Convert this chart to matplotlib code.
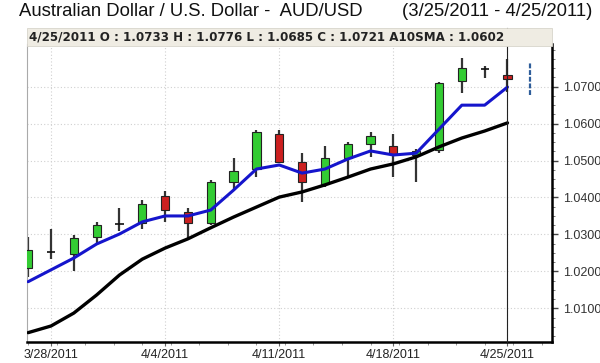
import matplotlib
matplotlib.use('Agg')

import matplotlib.pyplot as plt
from matplotlib.ticker import FixedLocator, MultipleLocator, FormatStrFormatter
import numpy as np

plt.rcParams['font.family'] = ['Liberation Sans', 'DejaVu Sans']

# daily AUD/USD candles, 3/25/2011 - 4/25/2011
dates = ['3/25', '3/28', '3/29', '3/30', '3/31', '4/1', '4/4', '4/5', '4/6', '4/7', '4/8',
         '4/11', '4/12', '4/13', '4/14', '4/15', '4/18', '4/19', '4/20', '4/21', '4/22', '4/25']
opens = [1.0209, 1.0253, 1.0247, 1.0293, 1.0329, 1.0331, 1.0404, 1.0360, 1.0331, 1.0442, 1.0477,
         1.0572, 1.0496, 1.0437, 1.0507, 1.0545, 1.0539, 1.0515, 1.0528, 1.0715, 1.0749, 1.0733]
highs = [1.0293, 1.0315, 1.0298, 1.0334, 1.0372, 1.0393, 1.0418, 1.0372, 1.0447, 1.0507, 1.0583,
         1.0583, 1.0520, 1.0539, 1.0550, 1.0577, 1.0572, 1.0530, 1.0713, 1.0778, 1.0756, 1.0776]
lows = [1.0185, 1.0233, 1.0201, 1.0274, 1.0309, 1.0315, 1.0334, 1.0290, 1.0325, 1.0423, 1.0455,
        1.0493, 1.0388, 1.0428, 1.0455, 1.0510, 1.0455, 1.0442, 1.0520, 1.0683, 1.0724, 1.0685]
closes = [1.0258, 1.0252, 1.0290, 1.0326, 1.0328, 1.0382, 1.0366, 1.0331, 1.0442, 1.0472, 1.0577,
          1.0496, 1.0442, 1.0507, 1.0545, 1.0567, 1.0518, 1.0525, 1.0710, 1.0751, 1.0748, 1.0721]

# short moving average (blue) and 10 day SMA (black)
fast_ma = [1.0172, 1.0204, 1.0236, 1.0274, 1.0301, 1.0334, 1.0350, 1.0350, 1.0366, 1.0420, 1.0477,
           1.0488, 1.0466, 1.0477, 1.0504, 1.0526, 1.0515, 1.0520, 1.0585, 1.0650, 1.0650, 1.0699]
sma10 = [1.0034, 1.0052, 1.0087, 1.0136, 1.0190, 1.0233, 1.0263, 1.0288, 1.0318, 1.0347, 1.0374,
         1.0401, 1.0415, 1.0434, 1.0455, 1.0477, 1.0491, 1.0510, 1.0537, 1.0561, 1.0580, 1.0602]

# range marker drawn right of the last bar
marker_range = [1.0678, 1.0764]

date_labels = ['3/28/2011', '4/4/2011', '4/11/2011', '4/18/2011', '4/25/2011']
y_ticks = [1.01, 1.02, 1.03, 1.04, 1.05, 1.06, 1.07]

x = np.arange(len(dates))

fig = plt.figure(figsize=(6, 3.63), dpi=100)
ax = fig.add_axes([27 / 600, 1 - 342 / 363, 525 / 600, 298 / 363])

ax.set_xlim(-0.05, 22.95)
ax.set_ylim(1.00087, 1.08156)

# grid
for yt in y_ticks:
    ax.axhline(yt, color='#d0d0d0', lw=0.8, ls=(0, (1, 2)), zorder=0)
major_x = [dates.index(d.rsplit('/', 1)[0]) for d in date_labels]
for xt in major_x:
    ax.axvline(xt, color='#d0d0d0', lw=0.8, ls=(0, (1, 2)), zorder=0)

# candles
body_w = 0.36
for i in x:
    o, h, l, c = opens[i], highs[i], lows[i], closes[i]
    ax.vlines(i, l, h, color='#333333', lw=1.6, zorder=2)
    if abs(c - o) < 0.0003:
        ax.hlines((o + c) / 2, i - body_w / 2, i + body_w / 2, color='#111111', lw=1.2, zorder=3)
    else:
        col = '#33cc33' if c > o else '#cc2020'
        ax.bar(i, abs(c - o), bottom=min(o, c), width=body_w, color=col,
               edgecolor='#222222', linewidth=0.8, zorder=3)

ax.plot(x, sma10, color='black', lw=2.4, zorder=4, solid_capstyle='round')
ax.plot(x, fast_ma, color='#1515cc', lw=2.2, zorder=5, solid_capstyle='round')

ax.vlines(len(dates), marker_range[0], marker_range[1], color='#2e5d9a', lw=1.6,
          linestyles=(0, (2.2, 0.8)), zorder=3)

# crosshair on the last bar
ax.axvline(len(dates) - 1, ymin=0, ymax=(342 - 28) / 298, color='#222222', lw=0.8,
           clip_on=False, zorder=6)

# axes styling
ax.yaxis.tick_right()
ax.yaxis.set_major_locator(FixedLocator(y_ticks))
ax.yaxis.set_minor_locator(MultipleLocator(0.0025))
ax.yaxis.set_major_formatter(FormatStrFormatter('%.4f'))
ax.xaxis.set_major_locator(FixedLocator(major_x))
ax.xaxis.set_minor_locator(MultipleLocator(1.25))
ax.set_xticklabels(date_labels)
ax.tick_params(axis='y', which='major', length=4, width=1, colors='#444444', labelsize=9,
               labelcolor='#333333', pad=4)
ax.tick_params(axis='y', which='minor', length=2, width=0.6, colors='#666666')
ax.tick_params(axis='x', which='major', length=3, width=0.8, colors='#666666', labelsize=9,
               labelcolor='#222222', pad=2)
ax.tick_params(axis='x', which='minor', length=2, width=0.6, colors='#888888')

ax.spines['top'].set_visible(False)
ax.spines['left'].set_color('#aaaaaa')
ax.spines['left'].set_linewidth(0.8)
ax.spines['right'].set_color('black')
ax.spines['right'].set_linewidth(1.8)
ax.spines['bottom'].set_color('black')
ax.spines['bottom'].set_linewidth(1.8)

# header box with last bar values
box = plt.Rectangle((27 / 600, 1 - 46 / 363), 525 / 600, 18 / 363, transform=fig.transFigure,
                    facecolor='#efece3', edgecolor='#d8d5cc', lw=0.6, zorder=1)
fig.patches.append(box)
header = 'O : %.4f H : %.4f L : %.4f C : %.4f A10SMA : %.4f' % (
    opens[-1], highs[-1], lows[-1], closes[-1], sma10[-1])
fig.text(29 / 600, 1 - 37 / 363, '4/25/2011 ' + header, fontsize=8.6, fontweight='bold',
         family='DejaVu Sans', color='#222222', va='center', ha='left', zorder=7)

fig.text(19 / 600, 1 - 12 / 363, 'Australian Dollar / U.S. Dollar -  AUD/USD', fontsize=13.3,
         color='#111111', va='center', ha='left')
fig.text(592 / 600, 1 - 12 / 363, '(3/25/2011 - 4/25/2011)', fontsize=13.3,
         color='#111111', va='center', ha='right')

fig.savefig('out.png', dpi=100)
